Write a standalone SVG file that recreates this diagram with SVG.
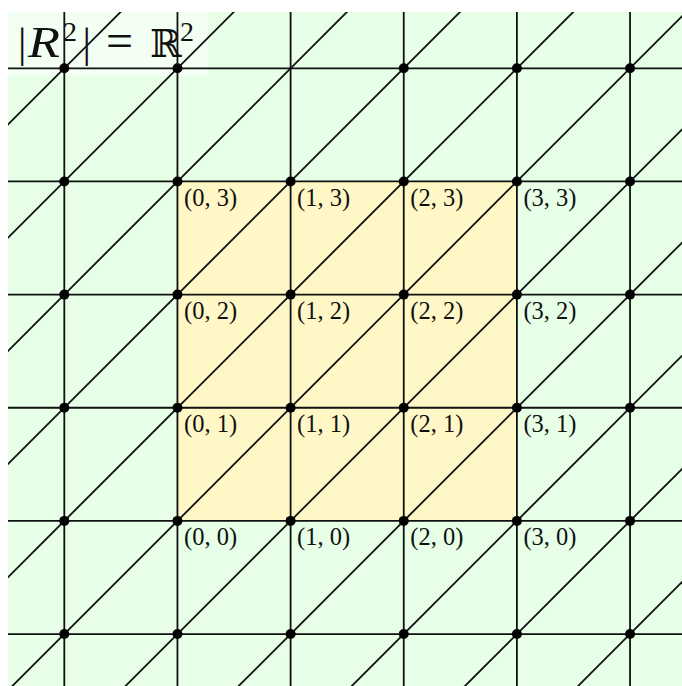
<svg xmlns="http://www.w3.org/2000/svg" width="682" height="686" viewBox="0 0 682 686">
<style>
.ln{stroke:#111;stroke-width:1.8;fill:none}
.dot{fill:#000}
.lbl{font-family:"Liberation Serif","Times New Roman",serif;font-size:24.5px;fill:#111}
.t{font-family:"Liberation Serif","Times New Roman",serif;fill:#111}
</style>
<defs>
<clipPath id="clip"><rect x="8" y="12" width="680" height="680"/></clipPath>
</defs>
<rect width="682" height="686" fill="#fff"/>
<rect id="plane" x="8" y="12" width="680" height="680" fill="#e6ffe6"/>
<rect id="square" x="177.45" y="181.45" width="339.45" height="339.45" fill="#fff8c6"/>
<rect id="titlebox" x="8" y="12" width="200" height="64" fill="#fff" fill-opacity="0.55"/>
<g id="connectors" class="ln" clip-path="url(#clip)">
<line x1="8" y1="68.3" x2="690" y2="68.3"/>
<line x1="8" y1="181.45" x2="690" y2="181.45"/>
<line x1="8" y1="294.6" x2="690" y2="294.6"/>
<line x1="8" y1="407.75" x2="690" y2="407.75"/>
<line x1="8" y1="520.9" x2="690" y2="520.9"/>
<line x1="8" y1="634.05" x2="690" y2="634.05"/>
<line x1="64.3" y1="12" x2="64.3" y2="692"/>
<line x1="177.45" y1="12" x2="177.45" y2="692"/>
<line x1="290.6" y1="12" x2="290.6" y2="692"/>
<line x1="403.75" y1="12" x2="403.75" y2="692"/>
<line x1="516.9" y1="12" x2="516.9" y2="692"/>
<line x1="630.05" y1="12" x2="630.05" y2="692"/>
<line x1="142.6" y1="-10" x2="-567.4" y2="700"/>
<line x1="255.75" y1="-10" x2="-454.25" y2="700"/>
<line x1="368.9" y1="-10" x2="-341.1" y2="700"/>
<line x1="482.05" y1="-10" x2="-227.95" y2="700"/>
<line x1="595.2" y1="-10" x2="-114.8" y2="700"/>
<line x1="708.35" y1="-10" x2="-1.65" y2="700"/>
<line x1="821.5" y1="-10" x2="111.5" y2="700"/>
<line x1="934.65" y1="-10" x2="224.65" y2="700"/>
<line x1="1047.8" y1="-10" x2="337.8" y2="700"/>
<line x1="1160.95" y1="-10" x2="450.95" y2="700"/>
<line x1="1274.1" y1="-10" x2="564.1" y2="700"/>
</g>
<g id="nodes">
<g id="n-m1-4"><circle class="dot" cx="64.3" cy="68.3" r="5"/></g>
<g id="n-0-4"><circle class="dot" cx="177.45" cy="68.3" r="5"/></g>
<g id="n-2-4"><circle class="dot" cx="403.75" cy="68.3" r="5"/></g>
<g id="n-3-4"><circle class="dot" cx="516.9" cy="68.3" r="5"/></g>
<g id="n-4-4"><circle class="dot" cx="630.05" cy="68.3" r="5"/></g>
<g id="n-m1-3"><circle class="dot" cx="64.3" cy="181.45" r="5"/></g>
<g id="n-0-3"><circle class="dot" cx="177.45" cy="181.45" r="5"/><text class="lbl" x="184" y="206">(0, 3)</text></g>
<g id="n-1-3"><circle class="dot" cx="290.6" cy="181.45" r="5"/><text class="lbl" x="297.1" y="206">(1, 3)</text></g>
<g id="n-2-3"><circle class="dot" cx="403.75" cy="181.45" r="5"/><text class="lbl" x="410.3" y="206">(2, 3)</text></g>
<g id="n-3-3"><circle class="dot" cx="516.9" cy="181.45" r="5"/><text class="lbl" x="523.4" y="206">(3, 3)</text></g>
<g id="n-4-3"><circle class="dot" cx="630.05" cy="181.45" r="5"/></g>
<g id="n-m1-2"><circle class="dot" cx="64.3" cy="294.6" r="5"/></g>
<g id="n-0-2"><circle class="dot" cx="177.45" cy="294.6" r="5"/><text class="lbl" x="184" y="319.2">(0, 2)</text></g>
<g id="n-1-2"><circle class="dot" cx="290.6" cy="294.6" r="5"/><text class="lbl" x="297.1" y="319.2">(1, 2)</text></g>
<g id="n-2-2"><circle class="dot" cx="403.75" cy="294.6" r="5"/><text class="lbl" x="410.3" y="319.2">(2, 2)</text></g>
<g id="n-3-2"><circle class="dot" cx="516.9" cy="294.6" r="5"/><text class="lbl" x="523.4" y="319.2">(3, 2)</text></g>
<g id="n-4-2"><circle class="dot" cx="630.05" cy="294.6" r="5"/></g>
<g id="n-m1-1"><circle class="dot" cx="64.3" cy="407.75" r="5"/></g>
<g id="n-0-1"><circle class="dot" cx="177.45" cy="407.75" r="5"/><text class="lbl" x="184" y="432.3">(0, 1)</text></g>
<g id="n-1-1"><circle class="dot" cx="290.6" cy="407.75" r="5"/><text class="lbl" x="297.1" y="432.3">(1, 1)</text></g>
<g id="n-2-1"><circle class="dot" cx="403.75" cy="407.75" r="5"/><text class="lbl" x="410.3" y="432.3">(2, 1)</text></g>
<g id="n-3-1"><circle class="dot" cx="516.9" cy="407.75" r="5"/><text class="lbl" x="523.4" y="432.3">(3, 1)</text></g>
<g id="n-4-1"><circle class="dot" cx="630.05" cy="407.75" r="5"/></g>
<g id="n-m1-0"><circle class="dot" cx="64.3" cy="520.9" r="5"/></g>
<g id="n-0-0"><circle class="dot" cx="177.45" cy="520.9" r="5"/><text class="lbl" x="184" y="545.4">(0, 0)</text></g>
<g id="n-1-0"><circle class="dot" cx="290.6" cy="520.9" r="5"/><text class="lbl" x="297.1" y="545.4">(1, 0)</text></g>
<g id="n-2-0"><circle class="dot" cx="403.75" cy="520.9" r="5"/><text class="lbl" x="410.3" y="545.4">(2, 0)</text></g>
<g id="n-3-0"><circle class="dot" cx="516.9" cy="520.9" r="5"/><text class="lbl" x="523.4" y="545.4">(3, 0)</text></g>
<g id="n-4-0"><circle class="dot" cx="630.05" cy="520.9" r="5"/></g>
<g id="n-m1-m1"><circle class="dot" cx="64.3" cy="634.05" r="5"/></g>
<g id="n-0-m1"><circle class="dot" cx="177.45" cy="634.05" r="5"/></g>
<g id="n-1-m1"><circle class="dot" cx="290.6" cy="634.05" r="5"/></g>
<g id="n-2-m1"><circle class="dot" cx="403.75" cy="634.05" r="5"/></g>
<g id="n-3-m1"><circle class="dot" cx="516.9" cy="634.05" r="5"/></g>
<g id="n-4-m1"><circle class="dot" cx="630.05" cy="634.05" r="5"/></g>
</g>
<g id="title">
<text class="t" font-size="42" y="57"><tspan x="18">|</tspan><tspan x="28" font-style="italic" font-size="44" textLength="32" lengthAdjust="spacingAndGlyphs">R</tspan><tspan x="63" y="41" font-size="28">2</tspan><tspan x="82.5" y="57">|</tspan><tspan x="106" font-size="48">=</tspan><tspan x="150" font-family="DejaVu Serif, serif" font-size="38">ℝ</tspan><tspan x="180" y="41" font-size="28">2</tspan></text>
</g>
</svg>
